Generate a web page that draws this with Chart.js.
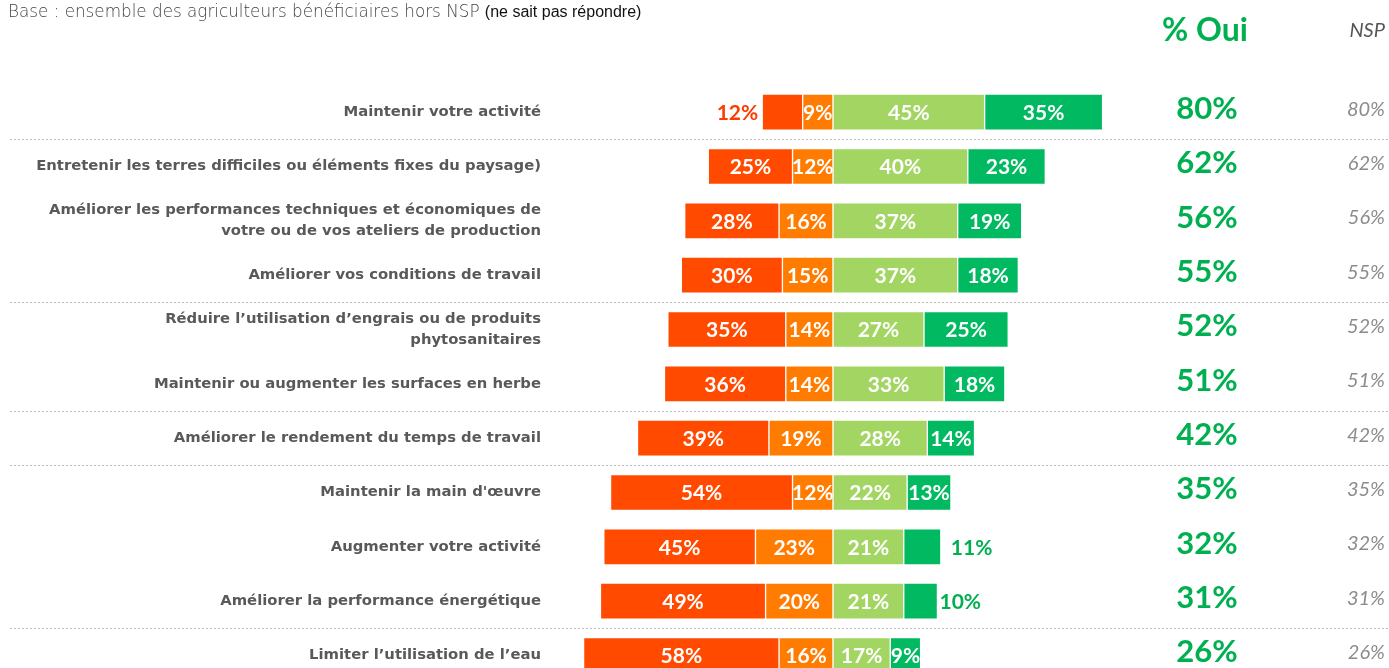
<!DOCTYPE html>
<html><head><meta charset="utf-8">
<script src="https://cdn.jsdelivr.net/npm/chart.js@4/dist/chart.umd.min.js"></script>
<style>
html,body{margin:0;padding:0;background:#fff;overflow:hidden;width:1389px;height:668px;}
#wrap{position:absolute;left:0;top:0;width:1389px;height:712px;}
.t{position:absolute;white-space:nowrap;}
</style></head><body>
<div id="wrap"><canvas id="c" width="1389" height="712"></canvas></div>
<div class="t" style="left:8px;top:1px;font-family:'DejaVu Sans',sans-serif;font-weight:200;font-size:16.8px;color:#444">Base : ensemble des agriculteurs bénéficiaires hors NSP <span style="font:16px 'Liberation Sans',Arial,sans-serif;color:#111">(ne sait pas répondre)</span></div>
<div class="t" style="left:1162px;top:9px;font:bold 32px Lato,sans-serif;color:#00b050">% Oui</div>
<div class="t" style="right:4px;top:17px;font:italic 20px Lato,sans-serif;color:#555">NSP</div>
<script>
const categories = [
  "Maintenir votre activité",
  "Entretenir les terres difficiles ou éléments fixes du paysage)",
  ["Améliorer les performances techniques et économiques de", "votre ou de vos ateliers de production"],
  "Améliorer vos conditions de travail",
  ["Réduire l’utilisation d’engrais ou de produits", "phytosanitaires"],
  "Maintenir ou augmenter les surfaces en herbe",
  "Améliorer le rendement du temps de travail",
  "Maintenir la main d'œuvre",
  "Augmenter votre activité",
  "Améliorer la performance énergétique",
  "Limiter l’utilisation de l’eau"
];
const nonPasDuTout = [12, 25, 28, 30, 35, 36, 39, 54, 45, 49, 58];
const plutotNon    = [ 9, 12, 16, 15, 14, 14, 19, 12, 23, 20, 16];
const plutotOui    = [45, 40, 37, 37, 27, 33, 28, 22, 21, 21, 17];
const ouiToutAFait = [35, 23, 19, 18, 25, 18, 14, 13, 11, 10,  9];
const pctOui       = [80, 62, 56, 55, 52, 51, 42, 35, 32, 31, 26];
const pctNsp       = [80, 62, 56, 55, 52, 51, 42, 35, 32, 31, 26];
const separatorsAfter = [0, 3, 5, 6, 9];

const COLORS = {red:'#ff4a00', orange:'#ff7c00', light:'#a3d562', dark:'#00b960', oui:'#00b050'};
const outside = {red:{0:-4}, dark:{8:10, 9:2}};

const neg = a => a.map(v => -v);

const labelPlugin = {
  id:'barLabels',
  afterDatasetsDraw(chart){
    const ctx = chart.ctx;
    ctx.save();
    ctx.font = 'bold 21px Lato, sans-serif';
    ctx.textBaseline = 'middle';
    chart.data.datasets.forEach((ds, di) => {
      const meta = chart.getDatasetMeta(di);
      meta.data.forEach((bar, i) => {
        const raw = ds.data[i];
        const left = Math.min(bar.x, bar.base), right = Math.max(bar.x, bar.base);
        let tx = (left + right) / 2, align = 'center', color = '#fff';
        const o = outside[ds.key];
        if (o && o[i] !== undefined) {
          color = ds.key === 'red' ? '#ff3c00' : '#00b050';
          if (raw < 0) { tx = left + o[i]; align = 'right'; }
          else { tx = right + o[i]; align = 'left'; }
        }
        ctx.fillStyle = color;
        ctx.textAlign = align;
        ctx.fillText(Math.abs(raw) + '%', tx, bar.y + 1);
      });
    });
    ctx.restore();
  }
};

const decorPlugin = {
  id:'decor',
  beforeDatasetsDraw(chart){
    const ctx = chart.ctx, y = chart.scales.y;
    ctx.save();
    ctx.strokeStyle = '#bdbdbd';
    ctx.lineWidth = 1;
    ctx.setLineDash([2, 2]);
    separatorsAfter.forEach(i => {
      const py = Math.round((y.getPixelForValue(i) + y.getPixelForValue(i + 1)) / 2) + 0.5;
      ctx.beginPath(); ctx.moveTo(10, py); ctx.lineTo(1389, py); ctx.stroke();
    });
    ctx.restore();
  },
  afterDraw(chart){
    const ctx = chart.ctx, y = chart.scales.y;
    ctx.save();
    ctx.textBaseline = 'middle';
    categories.forEach((c, i) => {
      const py = y.getPixelForValue(i);
      ctx.font = 'bold 31px Lato, sans-serif';
      ctx.fillStyle = COLORS.oui;
      ctx.textAlign = 'center';
      ctx.fillText(pctOui[i] + '%', 1207, py - 3);
      ctx.font = 'italic 20px Lato, sans-serif';
      ctx.fillStyle = '#8c8c8c';
      ctx.textAlign = 'right';
      ctx.fillText(pctNsp[i] + '%', 1385, py - 3);
    });
    ctx.restore();
  }
};

new Chart(document.getElementById('c'), {
  type:'bar',
  data:{
    labels: categories,
    datasets:[
      {key:'orange', label:'Plutôt non', data:neg(plutotNon), backgroundColor:COLORS.orange},
      {key:'red', label:'Non, pas du tout', data:neg(nonPasDuTout), backgroundColor:COLORS.red},
      {key:'light', label:'Plutôt oui', data:plutotOui, backgroundColor:COLORS.light},
      {key:'dark', label:'Oui, tout à fait', data:ouiToutAFait, backgroundColor:COLORS.dark}
    ]
  },
  options:{
    indexAxis:'y',
    responsive:false,
    animation:false,
    devicePixelRatio:1,
    layout:{padding:{top:85, bottom:18, left:0, right:249}},
    datasets:{bar:{barThickness:36, borderColor:'#ffffff', borderWidth:1, borderSkipped:false}},
    plugins:{legend:{display:false}, tooltip:{enabled:false}},
    scales:{
      x:{stacked:true, display:false, min:-81, max:91.1},
      y:{
        stacked:true,
        grid:{display:false, drawTicks:false},
        border:{display:false},
        afterFit(scale){ scale.width = 560; },
        ticks:{padding:19, color:'#595959', font:{family:'DejaVu Sans, sans-serif', weight:'bold', size:14.8, lineHeight:1.4}}
      }
    }
  },
  plugins:[decorPlugin, labelPlugin]
});
</script>
</body></html>
